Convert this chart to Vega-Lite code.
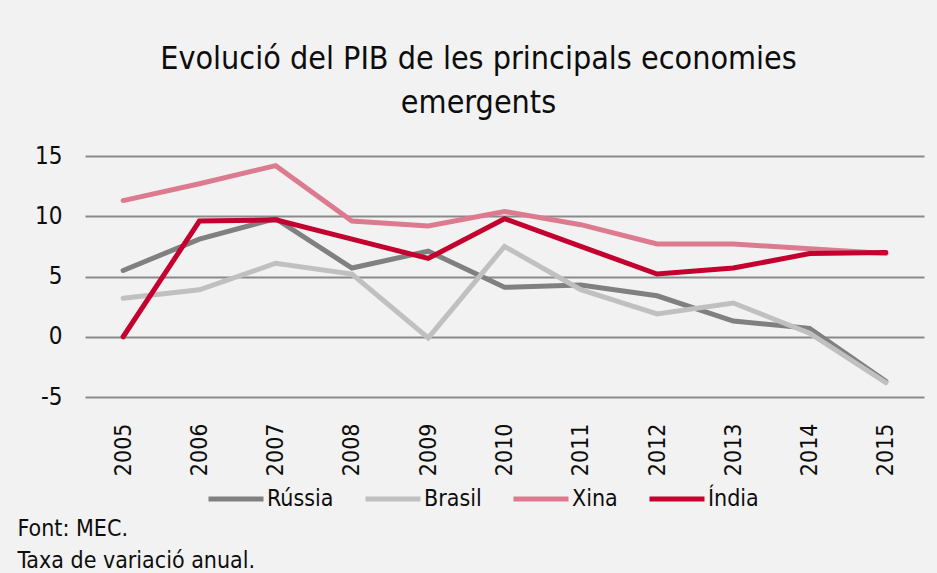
{
  "$schema": "https://vega.github.io/schema/vega-lite/v6.json",
  "width": 839,
  "height": 241,
  "autosize": {"type": "none"},
  "padding": {"left": 85, "top": 156, "right": 13, "bottom": 176},
  "background": "#f2f2f2",
  "config": {
    "view": {"stroke": null},
    "font": "DejaVu Sans Condensed, sans-serif"
  },
  "title": {
    "text": ["Evolució del PIB de les principals economies", "emergents"],
    "fontSize": 32,
    "fontWeight": "normal",
    "font": "DejaVu Sans Condensed, sans-serif",
    "color": "#0d0d0d",
    "lineHeight": 44,
    "anchor": "middle",
    "frame": "group",
    "dx": -26,
    "offset": 24
  },
  "data": {
    "values": [
      {"any": "2005", "pais": "Rússia", "valor": 5.5},
      {"any": "2006", "pais": "Rússia", "valor": 8.1},
      {"any": "2007", "pais": "Rússia", "valor": 9.8},
      {"any": "2008", "pais": "Rússia", "valor": 5.7},
      {"any": "2009", "pais": "Rússia", "valor": 7.1},
      {"any": "2010", "pais": "Rússia", "valor": 4.1},
      {"any": "2011", "pais": "Rússia", "valor": 4.3},
      {"any": "2012", "pais": "Rússia", "valor": 3.4},
      {"any": "2013", "pais": "Rússia", "valor": 1.3},
      {"any": "2014", "pais": "Rússia", "valor": 0.7},
      {"any": "2015", "pais": "Rússia", "valor": -3.7},
      {"any": "2005", "pais": "Brasil", "valor": 3.2},
      {"any": "2006", "pais": "Brasil", "valor": 3.9},
      {"any": "2007", "pais": "Brasil", "valor": 6.1},
      {"any": "2008", "pais": "Brasil", "valor": 5.2},
      {"any": "2009", "pais": "Brasil", "valor": -0.1},
      {"any": "2010", "pais": "Brasil", "valor": 7.5},
      {"any": "2011", "pais": "Brasil", "valor": 3.9},
      {"any": "2012", "pais": "Brasil", "valor": 1.9},
      {"any": "2013", "pais": "Brasil", "valor": 2.8},
      {"any": "2014", "pais": "Brasil", "valor": 0.3},
      {"any": "2015", "pais": "Brasil", "valor": -3.8},
      {"any": "2005", "pais": "Xina", "valor": 11.3},
      {"any": "2006", "pais": "Xina", "valor": 12.7},
      {"any": "2007", "pais": "Xina", "valor": 14.2},
      {"any": "2008", "pais": "Xina", "valor": 9.6},
      {"any": "2009", "pais": "Xina", "valor": 9.2},
      {"any": "2010", "pais": "Xina", "valor": 10.4},
      {"any": "2011", "pais": "Xina", "valor": 9.3},
      {"any": "2012", "pais": "Xina", "valor": 7.7},
      {"any": "2013", "pais": "Xina", "valor": 7.7},
      {"any": "2014", "pais": "Xina", "valor": 7.3},
      {"any": "2015", "pais": "Xina", "valor": 6.9},
      {"any": "2005", "pais": "Índia", "valor": 0.0},
      {"any": "2006", "pais": "Índia", "valor": 9.6},
      {"any": "2007", "pais": "Índia", "valor": 9.7},
      {"any": "2008", "pais": "Índia", "valor": 8.1},
      {"any": "2009", "pais": "Índia", "valor": 6.5},
      {"any": "2010", "pais": "Índia", "valor": 9.8},
      {"any": "2011", "pais": "Índia", "valor": 7.5},
      {"any": "2012", "pais": "Índia", "valor": 5.2},
      {"any": "2013", "pais": "Índia", "valor": 5.7},
      {"any": "2014", "pais": "Índia", "valor": 6.9},
      {"any": "2015", "pais": "Índia", "valor": 7.0}
    ]
  },
  "mark": {"type": "line", "strokeWidth": 5, "strokeCap": "round"},
  "encoding": {
    "x": {
      "field": "any",
      "type": "ordinal",
      "scale": {"type": "point", "padding": 0.5},
      "axis": {
        "title": ["Font: MEC.", "Taxa de variació anual."],
        "titleFont": "DejaVu Sans Condensed, sans-serif",
        "titleFontSize": 23,
        "titleFontWeight": "normal",
        "titleColor": "#0d0d0d",
        "titleAnchor": "start",
        "titleAlign": "left",
        "titleBaseline": "alphabetic",
        "titleLineHeight": 32,
        "titleX": -68,
        "titleY": 138,
        "labelAngle": 270,
        "labelFontSize": 23,
        "labelColor": "#0d0d0d",
        "labelPadding": 26,
        "ticks": false,
        "domain": false,
        "grid": false
      }
    },
    "y": {
      "field": "valor",
      "type": "quantitative",
      "scale": {"domain": [-5, 15], "nice": false},
      "axis": {
        "title": null,
        "values": [-5, 0, 5, 10, 15],
        "labelExpr": "datum.value + ''",
        "labelFontSize": 24,
        "labelColor": "#0d0d0d",
        "labelPadding": 23,
        "ticks": false,
        "domain": false,
        "gridColor": "#8a8a8a",
        "gridWidth": 2
      }
    },
    "color": {
      "field": "pais",
      "type": "nominal",
      "scale": {
        "domain": ["Rússia", "Brasil", "Xina", "Índia"],
        "range": ["#808080", "#c0c0c0", "#dc7a90", "#c4002f"]
      },
      "legend": {
        "title": null,
        "orient": "none",
        "direction": "horizontal",
        "gridAlign": "none",
        "legendX": 121,
        "legendY": 313,
        "symbolType": "stroke",
        "symbolSize": 3025,
        "symbolStrokeWidth": 5,
        "labelFontSize": 23,
        "labelColor": "#0d0d0d",
        "labelOffset": 1,
        "columnPadding": 21,
        "labelLimit": 300
      }
    }
  }
}
